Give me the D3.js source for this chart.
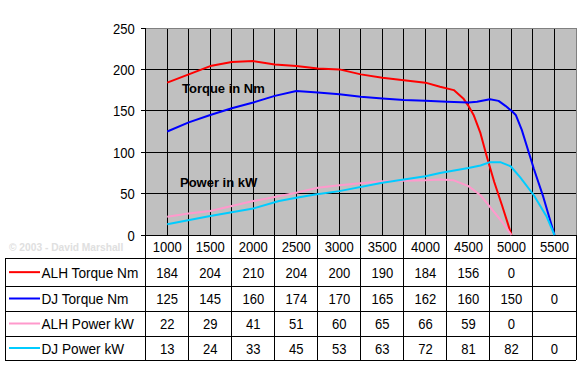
<!DOCTYPE html>
<html><head><meta charset="utf-8">
<script src="https://cdn.jsdelivr.net/npm/d3@7"></script>
<style>html,body{margin:0;padding:0;background:#fff;}svg{display:block;}</style>
</head><body>
<svg id="c" width="583" height="368"></svg>
<script>
// ---- data ----
const categories = [1000,1500,2000,2500,3000,3500,4000,4500,5000,5500];
const seriesNames = ["ALH Torque Nm","DJ Torque Nm","ALH Power kW","DJ Power kW"];
const seriesColors = ["#ff0000","#0000ff","#ff99cc","#00ccff"];
const alhTorque = [184,204,210,204,200,190,184,156,0,null];
const djTorque  = [125,145,160,174,170,165,162,160,150,0];
const alhPower  = [22,29,41,51,60,65,66,59,0,null];
const djPower   = [13,24,33,45,53,63,72,81,82,0];
const yTicks = [0,50,100,150,200,250];
// plotted traces: [rpm, value]
const alhTorqueTrace = [[1000,184],[1250,194],[1500,204],[1750,209],[2000,210],[2250,206],[2500,204],[2750,201],[3000,200],[3250,194],[3500,190],[3750,187],[4000,184],[4170,179],[4330,175],[4440,165],[4500,156],[4560,145],[4640,123],[4710,96],[4800,64],[4890,36],[5000,0]];
const djTorqueTrace = [[1000,125],[1250,136],[1500,145],[1750,153],[2000,160],[2250,168],[2500,174],[2750,172],[3000,170],[3250,167],[3500,165],[3750,163],[4000,162],[4250,161],[4500,160],[4600,161],[4750,164],[4850,162],[4930,156],[5000,150],[5050,145],[5120,127],[5260,80],[5370,46],[5500,0]];
const alhPowerTrace = [[1000,22],[1250,26],[1500,29],[1750,35],[2000,41],[2250,46],[2500,51],[2750,57],[3000,60],[3500,65],[4000,66],[4170,67],[4330,66],[4500,59],[4640,48],[4750,34],[4890,16],[5000,0]];
const djPowerTrace = [[1000,13],[1500,23],[2000,32],[2300,41],[2500,45],[2720,49],[3000,53],[3500,63],[4000,71],[4170,75],[4500,81],[4640,84],[4750,88],[4870,88],[4990,83],[5100,70],[5260,48],[5410,22],[5500,0]];
const chartLabels = [["Torque in Nm",182,93],["Power in kW",180,187]];
const watermark = "\u00a9 2003 - David Marshall";

const tableRows = [alhTorque,djTorque,alhPower,djPower];
const traces = [alhTorqueTrace,djTorqueTrace,alhPowerTrace,djPowerTrace];

// ---- layout ----
const L=145.7, R=576, T=28, B=235;
const rowEdges=[235,258.3,286,311,336,360];
const tableLeft=5;
const SX=0.87, FS=15;
const svg=d3.select("#c");

const xb=d3.scaleBand().domain(categories).range([L,R]);
const x=d3.scaleLinear().domain([categories[0]-250,categories[categories.length-1]+250]).range([L,R]);
const y=d3.scaleLinear().domain([0,250]).range([B,T]);

function txt(g,px,py,s,anchor,opts={}){
  const t=g.append("text").attr("transform",`translate(${px},${py}) scale(${opts.sx??SX},1)`)
    .attr("text-anchor",anchor).attr("font-family","'Liberation Sans',Arial,sans-serif")
    .attr("font-size",opts.fs??FS).attr("fill",opts.fill??"#000").text(s);
  if(opts.bold) t.attr("font-weight","bold");
  return t;
}

// plot background
svg.append("rect").attr("x",L).attr("y",T).attr("width",R-L).attr("height",B-T).attr("fill","#c0c0c0");
// gridlines
const gg=svg.append("g").attr("stroke","#000").attr("stroke-width",1).attr("shape-rendering","crispEdges");
yTicks.filter(v=>v>0&&v<250).forEach(v=>gg.append("line").attr("x1",L).attr("x2",R).attr("y1",y(v)).attr("y2",y(v)));
const halfSteps=d3.range(categories[0],categories[categories.length-1]+250,250);
halfSteps.forEach(r=>gg.append("line").attr("x1",x(r)).attr("x2",x(r)).attr("y1",T).attr("y2",B));
// border top/right gray
svg.append("path").attr("d",`M${L},${T}H${R}V${B}`).attr("fill","none").attr("stroke","#808080").attr("shape-rendering","crispEdges");

// y axis
const ax=svg.append("g").attr("stroke","#000").attr("shape-rendering","crispEdges");
ax.append("line").attr("x1",L).attr("x2",L).attr("y1",T).attr("y2",rowEdges[5]);
ax.append("line").attr("x1",L).attr("x2",R).attr("y1",B).attr("y2",B);
yTicks.forEach(v=>{
  ax.append("line").attr("x1",L-5).attr("x2",L).attr("y1",y(v)).attr("y2",y(v));
  txt(svg,L-11,y(v)+5.5,String(v),"end");
});

// lines
const line=d3.line().x(d=>x(d[0])).y(d=>y(d[1]));
traces.forEach((tr,i)=>{
  svg.append("path").datum(tr).attr("d",line).attr("fill","none")
    .attr("stroke",seriesColors[i]).attr("stroke-width",2).attr("stroke-linejoin","round");
});

// chart labels
chartLabels.forEach(([s,px,py])=>txt(svg,px,py,s,"start",{fs:13,bold:true,sx:1,fill:"#000"}));

// watermark
txt(svg,9,250.5,watermark,"start",{fs:11,bold:true,sx:0.93,fill:"#e0e0e0"});

// table
const tg=svg.append("g").attr("stroke","#000").attr("shape-rendering","crispEdges").attr("fill","none");
tg.append("line").attr("x1",R).attr("x2",R).attr("y1",B).attr("y2",rowEdges[5]);
rowEdges.slice(1).forEach(e=>tg.append("line").attr("x1",tableLeft).attr("x2",R).attr("y1",e).attr("y2",e));
tg.append("line").attr("x1",tableLeft).attr("x2",tableLeft).attr("y1",rowEdges[1]).attr("y2",rowEdges[5]);
categories.forEach((c,i)=>{
  if(i>0) tg.append("line").attr("x1",xb(c)).attr("x2",xb(c)).attr("y1",B).attr("y2",rowEdges[5]);
});
// header
categories.forEach(c=>txt(svg,xb(c)+xb.bandwidth()/2,(rowEdges[0]+rowEdges[1])/2+5.5,String(c),"middle"));
// rows
tableRows.forEach((vals,ri)=>{
  const cy=(rowEdges[ri+1]+rowEdges[ri+2])/2;
  svg.append("line").attr("x1",9).attr("x2",40).attr("y1",cy).attr("y2",cy)
    .attr("stroke",seriesColors[ri]).attr("stroke-width",2);
  txt(svg,41.5,cy+5.5,seriesNames[ri],"start",{sx:0.91});
  vals.forEach((v,ci)=>{
    if(v===null) return;
    txt(svg,xb(categories[ci])+xb.bandwidth()/2,cy+5.5,String(v),"middle");
  });
});
</script>
</body></html>
